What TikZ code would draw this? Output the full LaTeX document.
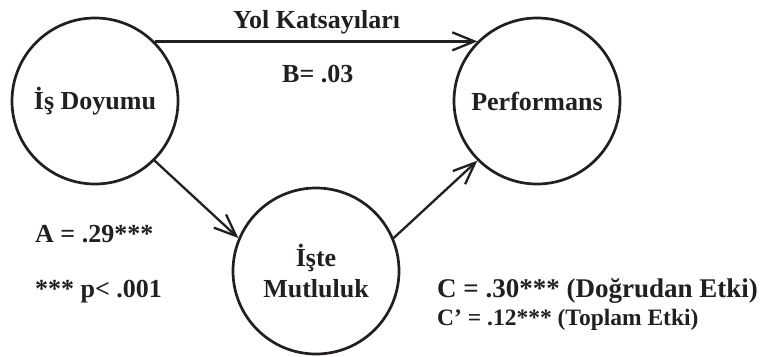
\documentclass[tikz,border=0pt]{standalone}
\usepackage{fontspec}
\setmainfont{Liberation Serif}
\usetikzlibrary{arrows.meta}
\definecolor{ink}{HTML}{231F20}
\begin{document}
\begin{tikzpicture}[x=1pt,y=-1pt,
  every node/.style={text=ink,font=\fontsize{26}{31}\selectfont\bfseries},
  var/.style={circle,draw=ink,line width=2.7pt,minimum size=166pt,inner sep=0pt,align=center},
  lbl/.style={anchor=base west,inner sep=0pt},
  big/.style={lbl,font=\fontsize{27}{31}\selectfont\bfseries},
  small/.style={lbl,font=\fontsize{23.5}{28}\selectfont\bfseries},
  path/.style={draw=ink,line width=2.3pt,-{Straight Barb[length=22pt,width=18pt]}}]
\useasboundingbox (0,0) rectangle (762,356);
\node[var] (is) at (95,101) {İş Doyumu};
\node[var] (perf) at (537,101) {Performans};
\node[var] (mut) at (316,271) {İşte\\Mutluluk};
\node[lbl] (yol) at (233,28) {Yol Katsayıları};
\node[lbl] (b) at (282,82) {B= .03};
\node[lbl] (a) at (35,242) {A = .29***};
\node[lbl] (p) at (35,297) {*** p< .001};
\node[big] (c) at (437,297) {C = .30*** (Doğrudan Etki)};
\node[small] (c2) at (437,325) {C’ = .12*** (Toplam Etki)};
\draw[path] (is.45) -- (perf.135);
\draw[path] (is.-45) -- (mut.157);
\draw[path] (mut.23) -- (perf.-135);
\end{tikzpicture}
\end{document}
